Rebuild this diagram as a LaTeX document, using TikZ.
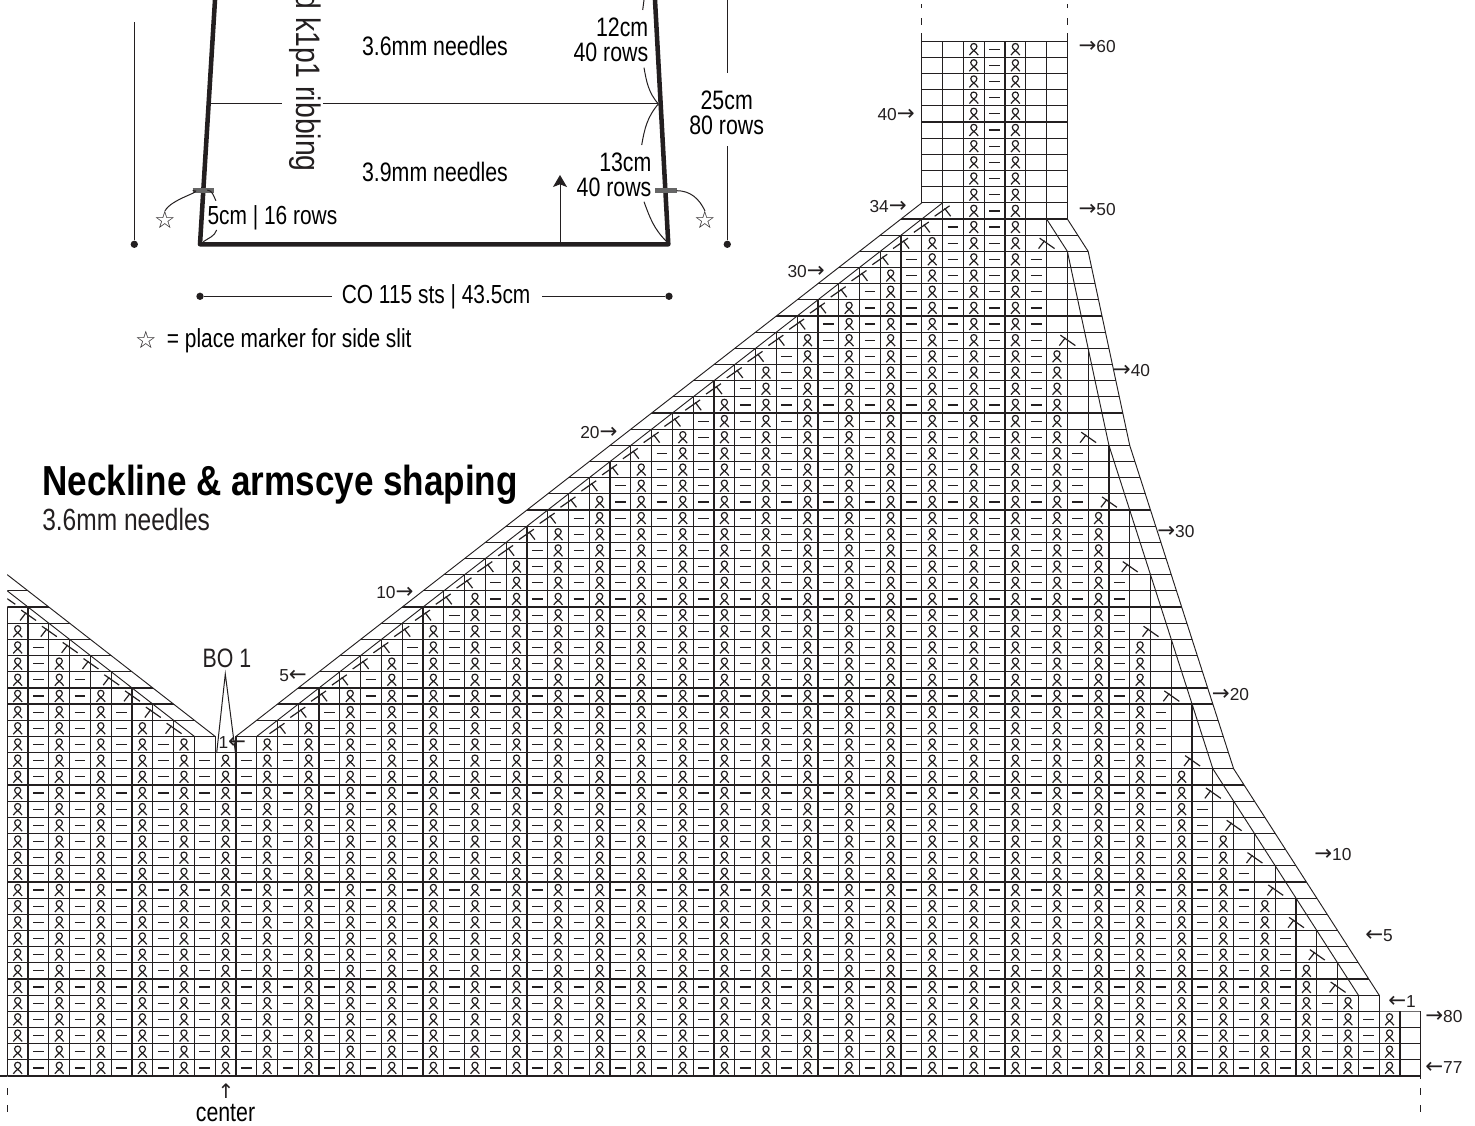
\documentclass[tikz,border=0pt]{standalone}
\usepackage{fontspec}
\setmainfont{Liberation Sans}
\newfontfamily\narrowfont[FakeStretch=0.8]{Liberation Sans}
\newfontfamily\titlefont[FakeStretch=0.835]{Liberation Sans}
\newfontfamily\symbfont{DejaVu Sans}
\newcommand{\rarr}{{\symbfont\fontsize{16}{13}\selectfont →}}
\newcommand{\larr}{{\symbfont\fontsize{16}{13}\selectfont ←}}
\usetikzlibrary{arrows.meta}
\definecolor{inkdark}{HTML}{231F20}
\tikzstyle{gridline}=[draw=inkdark, line width=0.9pt]
\tikzstyle{diagline}=[draw=inkdark, line width=0.7pt]
\tikzstyle{thinline}=[draw=inkdark, line width=0.75pt]
\tikzstyle{outline}=[draw=inkdark, line width=3.4pt, line join=round]
\tikzstyle{slitmark}=[draw=black!60, line width=4pt]
\tikzstyle{stubdash}=[draw=inkdark, line width=0.8pt, dash pattern=on 5.25pt off 7.5pt]
\tikzstyle{dotmark}=[circle, fill=inkdark, inner sep=0pt, minimum size=5.5pt]
\tikzstyle{rowlabel}=[inner sep=0pt, text=inkdark, font=\fontsize{13}{13}\selectfont]
\tikzstyle{sizelabel}=[inner sep=0pt, text=black, font=\narrowfont\fontsize{20}{19.2}\selectfont]
\tikzstyle{widelabel}=[inner sep=0pt, anchor=west, text=black, font=\narrowfont\fontsize{19.6}{19.2}\selectfont]
\tikzstyle{starlabel}=[inner sep=0pt, text=inkdark, font=\symbfont\fontsize{18}{18}\selectfont]
\tikzset{
  ribbonst/.pic={\draw[gridline] (-3.3pt,-4.4pt) .. controls (-1.6pt,-1.6pt) and (2.6pt,0pt) .. (2.3pt,2.2pt) .. controls (2pt,4.9pt) and (-2pt,4.9pt) .. (-2.3pt,2.2pt) .. controls (-2.6pt,0pt) and (1.6pt,-1.6pt) .. (3.3pt,-4.4pt);},
  purlst/.pic={\draw[gridline] (-4pt,0) -- (4pt,0);},
  decst/.pic={\draw[gridline] (-5.2pt,3.8pt) -- (6pt,-4pt); \draw[gridline] (-6pt,-4pt) -- (-1.5pt,1.9pt);}
}
\begin{document}
\begin{tikzpicture}[x=0.75pt, y=-0.75pt]
    \useasboundingbox (0,0) rectangle (1475,1126);

    \coordinate (BL) at (200,244.3);
    \coordinate (BR) at (668.3,244.3);
    \coordinate (TL) at (215,0);
    \coordinate (TR) at (655,0);
    \draw[outline] (TL) -- (BL) -- (BR) -- (TR);
    \draw[slitmark] (192.7,190.7) coordinate (slitLa) -- (214.3,190.7) coordinate (slitLb);
    \draw[slitmark] (655,190.7) coordinate (slitRa) -- (676.7,190.7) coordinate (slitRb);

    \node[starlabel] (starL) at (165,220) {☆};
    \node[starlabel] (starR) at (705,220) {☆};
    \node[starlabel] (starK) at (146,339.5) {☆};
    \draw[thinline] (slitLa) to[out=0,in=65] (starL.north);
    \draw[thinline] (slitRb) to[out=0,in=115] (starR.north);

    \coordinate (midL) at (210.7,104);
    \coordinate (midR) at (658.3,104);
    \node[inner sep=0pt, text=inkdark, rotate=-90, anchor=east, font=\titlefont\fontsize{25.5}{25.5}\selectfont] (ribbing) at (305,172) {d k1p1 ribbing};
    \coordinate (midGapL) at (281.7,104);
    \coordinate (midGapR) at (323.3,104);
    \draw[thinline] (midL) -- (midGapL);
    \draw[thinline] (midGapR) -- (midR);

    \coordinate (arcA) at (207.3,190);
    \coordinate (arcB) at (216,200.7);
    \coordinate (arcC) at (203.3,241.7);
    \coordinate (arcD) at (216.7,230);
    \draw[thinline] (arcA) to[out=-5,in=120] (arcB);
    \draw[thinline] (arcC) to[out=35,in=-110] (arcD);
    \coordinate (arcE) at (644,0);
    \coordinate (arcF) at (642.7,10);
    \coordinate (arcG) at (644,67.7);
    \coordinate (arcH) at (641.7,145);
    \coordinate (arcI) at (644,201.7);
    \coordinate (arcJ) at (666.7,241.7);
    \draw[thinline] (arcE) to[out=-100,in=80] (arcF);
    \draw[thinline] (arcG) to[out=-80,in=130] (midR);
    \draw[thinline] (midR) to[out=-130,in=80] (arcH);
    \draw[thinline] (arcI) to[out=-70,in=135] (arcJ);

    \coordinate (upFoot) at (560,244);
    \coordinate (upTip) at (560,175);
    \draw[thinline, -{Stealth[length=9pt, width=10.5pt, inset=2pt]}] (upFoot) -- (upTip);

    \node[dotmark] (dimL) at (134.3,244.3) {};
    \coordinate (dimLtop) at (134.3,22.3);
    \draw[thinline] (dimL) -- (dimLtop);
    \node[dotmark] (dimR) at (727.3,244.3) {};
    \coordinate (dimRgap) at (727.3,146);
    \coordinate (dimRtop) at (727.3,0);
    \coordinate (dimRgapb) at (727.3,73);
    \draw[thinline] (dimR) -- (dimRgap);
    \draw[thinline] (dimRgapb) -- (dimRtop);
    \node[dotmark] (dimB) at (200,296.3) {};
    \node[dotmark] (dimC) at (669,296.3) {};
    \coordinate (dimBgap) at (331.7,296.3);
    \coordinate (dimCgap) at (542.3,296.3);
    \draw[thinline] (dimB) -- (dimBgap);
    \draw[thinline] (dimC) -- (dimCgap);

    \node[sizelabel] (upper) at (435,46) {3.6mm needles};
    \node[sizelabel] (lower) at (435,172) {3.9mm needles};
    \node[sizelabel, align=right, anchor=east] (top12) at (648.5,40) {12cm\\40 rows};
    \node[sizelabel, align=right, anchor=east] (low13) at (651.7,175) {13cm\\40 rows};
    \node[sizelabel, align=center] (all25) at (726.7,113) {25cm\\80 rows};
    \node[widelabel] (rib5) at (207.3,218) {5cm | 16 rows};
    \node[widelabel] (cast) at (341.5,297) {CO 115 sts | 43.5cm};
    \node[widelabel] (keytext) at (166.7,341) {= place marker for side slit};

    \node[inner sep=0pt, anchor=west, font=\titlefont\bfseries\fontsize{31.5}{31.5}\selectfont] (title) at (42,485) {Neckline \& armscye shaping};
    \node[inner sep=0pt, anchor=west, text=inkdark, font=\narrowfont\fontsize{23}{23}\selectfont] (subtitle) at (42,520) {3.6mm needles};

    \begin{scope}[shift={(7.3,1076)}, x=15.589pt, y=12.1275pt]
        \foreach \i/\t in {0/29,1/29,2/28,3/27,4/26,5/25,6/24,7/23,8/22,9/21,10/21,11/21,44/53,45/64,46/64,47/64,48/64,49/64,50/64,51/51,52/45,53/39,54/35,55/31,56/27,57/23,58/19,59/17,60/15,61/13,62/11,63/9,64/7,65/5,66/5,67/4,68/4}
            \draw[gridline] (\i,0) -- (\i,\t);
        \foreach \i in {12,...,43} {
            \pgfmathtruncatemacro\t{\i+9}
            \draw[gridline] (\i,0) -- (\i,\t);
        }
        \draw[gridline] (44,54) -- (44,64.5);
        \draw[gridline] (51,53) -- (51,64.5);

        \draw[diagline] (0,31) -- (10,21);
        \draw[diagline] (0,30) -- (9,21);
        \draw[diagline] (11,21) -- (44,54);
        \draw[diagline] (12,21) -- (45,54);
        \draw[diagline] (51,53) -- (52,51) -- (54,39) -- (59,19) -- (66,5);
        \draw[diagline] (50,53) -- (51,51) -- (53,39) -- (58,19) -- (65,5);

        \begin{scope}
            \clip (0,-0.05) -- (68.02,-0.05) -- (68.02,4) -- (66,4) -- (66,5) -- (59,19) -- (54,39) -- (52,51) -- (51,53) -- (51.02,64.05) -- (43.98,64.05) -- (44,54) -- (11,21) -- (11,20.5) -- (10,20.5) -- (10,21) -- (0,31) -- cycle;
            \foreach \k in {0,...,64}
                \draw[gridline] (0,\k) -- (68,\k);
            \foreach \k/\c in {5/64,7/63,9/62,11/61,13/60,15/59,17/58,19/57,23/56,27/55,31/54,35/53,39/52,45/51,51/50,21/8,22/7,23/6,24/5,25/4,26/3,27/2,28/1,29/0}
                \pic at (\c,\k+0.5) {decst};
            \foreach \k in {21,...,53} {
                \pgfmathtruncatemacro\c{\k-8}
                \pic[xscale=-1] at (\c,\k+0.5) {decst};
            }
        \end{scope}

        \foreach \ka/\kb/\hi in {0/3/66,4/4/64,5/6/62,7/8/61,9/10/60,11/12/59,13/14/58,15/16/57,17/18/56,19/22/55,23/26/54,27/30/53,31/34/52,35/38/51,39/44/50,45/50/49,51/63/48}
            \foreach \k in {\ka,...,\kb} {
                \pgfmathtruncatemacro\lo{\k<20 ? 0 : (\k==20 ? 12 : min(\k-7,46))}
                \foreach \c in {\lo,...,\hi} {
                    \ifodd\c
                        \pic at (\c+0.5,\k+0.5) {purlst};
                    \else
                        \pic at (\c+0.5,\k+0.5) {ribbonst};
                    \fi
                }
            }
        \foreach \k/\hi in {20/8,21/6,22/5,23/4,24/3,25/2,26/1,27/0}
            \foreach \c in {0,...,\hi} {
                \ifodd\c
                    \pic at (\c+0.5,\k+0.5) {purlst};
                \else
                    \pic at (\c+0.5,\k+0.5) {ribbonst};
                \fi
            }

        \draw[gridline] (-0.35,0) -- (0,0);
        \draw[gridline] (68,0) -- (68,-0.2);
        \foreach \i in {0,68}
            \draw[stubdash] (\i,-0.75) -- (\i,-2.25);
        \foreach \i in {44,51}
            \draw[stubdash] (\i,65) -- (\i,66.3);
    \end{scope}

    \node[inner sep=0pt, text=inkdark, font=\narrowfont\fontsize{20}{20}\selectfont] (bo) at (227,658) {BO 1};
    \coordinate (boL) at (216.7,752.7);
    \coordinate (boTip) at (225.3,674);
    \coordinate (boR) at (235.3,751.7);
    \draw[thinline] (boL) -- (boTip) -- (boR);
    \node[sizelabel] (centre) at (225.5,1113) {center};
    \node[rowlabel, font=\symbfont\fontsize{15}{15}\selectfont] (centreup) at (226,1091) {↑};

    \node[rowlabel, anchor=west] (r60) at (1078.3,47) {\rarr60};
    \node[rowlabel, anchor=west] (r50) at (1078.3,210) {\rarr50};
    \node[rowlabel, anchor=west] (l40) at (877.3,115) {40\rarr};
    \node[rowlabel, anchor=west] (l34) at (869.3,206.7) {34\rarr};
    \node[rowlabel, anchor=west] (r40) at (1112.7,371) {\rarr40};
    \node[rowlabel, anchor=west] (r30) at (1157,532) {\rarr30};
    \node[rowlabel, anchor=west] (r20) at (1211.7,695) {\rarr20};
    \node[rowlabel, anchor=west] (r10) at (1314,855) {\rarr10};
    \node[rowlabel, anchor=west] (r5) at (1365,936) {\larr5};
    \node[rowlabel, anchor=west] (r1) at (1388,1001.7) {\larr1};
    \node[rowlabel, anchor=west] (r80) at (1425,1016.7) {\rarr80};
    \node[rowlabel, anchor=west] (r77) at (1425,1068) {\larr77};
    \node[rowlabel, anchor=west] (l30) at (787.3,271.7) {30\rarr};
    \node[rowlabel, anchor=west] (l20) at (580,433) {20\rarr};
    \node[rowlabel, anchor=west] (l10) at (376,593) {10\rarr};
    \node[rowlabel, anchor=west] (l5) at (279,676) {5\larr};
    \node[rowlabel, anchor=west] (l1) at (218.3,743) {1\larr};
\end{tikzpicture}
\end{document}
